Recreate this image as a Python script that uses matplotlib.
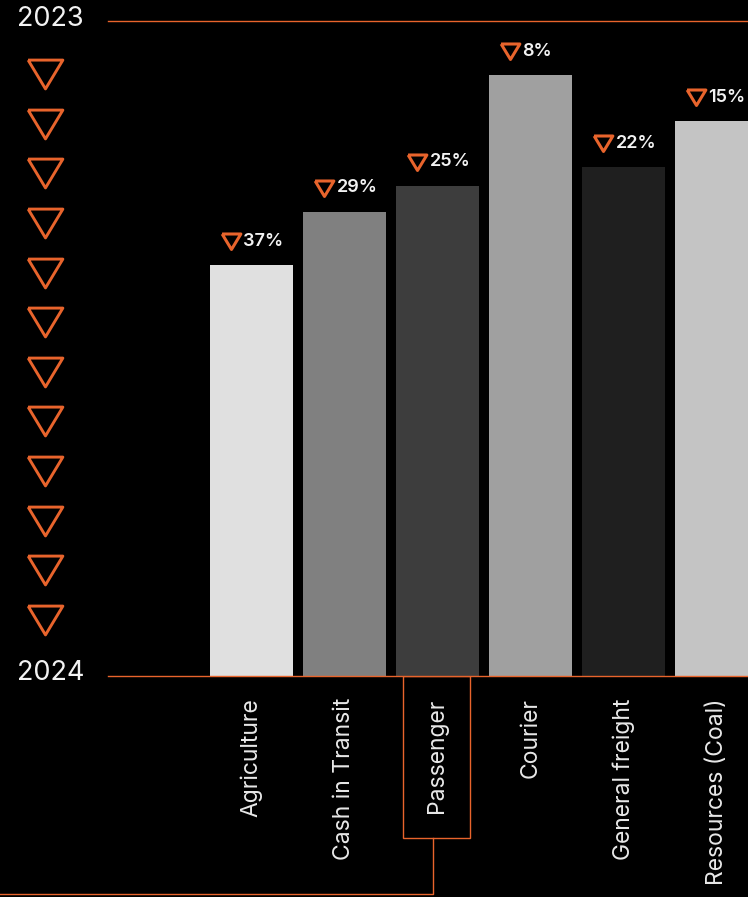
import numpy as np
import matplotlib.pyplot as plt
from matplotlib.patches import Rectangle
from matplotlib.transforms import offset_copy

# segments, bar heights and the year-on-year decline for each
categories = ['Agriculture', 'Cash in Transit', 'Passenger', 'Courier',
              'General freight', 'Resources (Coal)']
heights = [411, 464, 490, 601, 509, 555]
declines = [37, 29, 25, 8, 22, 15]
bar_colors = ['#e0e0e0', '#808080', '#3d3d3d', '#a0a0a0', '#1f1f1f', '#c4c4c4']
years = ['2023', '2024']

ORANGE = '#e8642c'
W, H = 748, 897
plt.rcParams['font.family'] = ['Inter', 'DejaVu Sans']

fig = plt.figure(figsize=(W / 100, H / 100), dpi=100, facecolor='black')

# background layer in pixel coordinates for the decorations
deco = fig.add_axes([0, 0, 1, 1], zorder=0)
deco.set_xlim(0, W)
deco.set_ylim(H, 0)
deco.axis('off')

ax = fig.add_axes([108 / W, (H - 676) / H, 640 / W, 655 / H], zorder=1)
ax.set_facecolor('none')
x = np.arange(len(categories))
ax.bar(x, heights, width=0.89, color=bar_colors, zorder=2)
ax.set_xlim((108 - 251.5) / 93, (748 - 251.5) / 93)
ax.set_ylim(0, 655)

for s in ['left', 'right']:
    ax.spines[s].set_visible(False)
for s in ['top', 'bottom']:
    ax.spines[s].set_color(ORANGE)
    ax.spines[s].set_linewidth(1.0)
    ax.spines[s].set_zorder(3)

ax.set_yticks([])
ax.set_xticks(x)
ax.set_xticklabels(categories, rotation=90, color='#e8e8e8', fontsize=16.5,
                   va='top', ha='center')
ax.tick_params(axis='x', length=0, pad=16)

# small down-triangle + percentage above each bar
tri_small = [(-1, 0.8), (1, 0.8), (0, -0.85), (-1, 0.8)]
tri_trans = offset_copy(ax.transData, fig=fig, x=-21, y=24, units='dots')
for xi, h, d in zip(x, heights, declines):
    ax.plot(xi, h, marker=tri_small, markersize=13.5, mfc='none', mec=ORANGE,
            mew=2.2, transform=tri_trans, clip_on=False, zorder=4)
    ax.annotate(f'{d}%', (xi, h), xytext=(-8 * 0.72, 24 * 0.72),
                textcoords='offset points', ha='left', va='center',
                color='#f2f2f2', fontsize=13, fontweight='semibold')

# column of large down-triangles on the left
tri_big = [(-1, 0.83), (1, 0.83), (0, -0.83), (-1, 0.83)]
deco.plot(np.full(12, 45), np.linspace(74, 620, 12), linestyle='none',
          marker=tri_big, markersize=25, mfc='none', mec=ORANGE, mew=2.1)

# year labels at both ends of the scale
fig.text(17 / W, 1 - 19 / H, years[0], color='#f2f2f2', fontsize=19.5,
         ha='left', va='center')
fig.text(17 / W, 1 - 673 / H, years[1], color='#f2f2f2', fontsize=19.5,
         ha='left', va='center')

# highlight box around the Passenger label with a connector
deco.add_patch(Rectangle((403, 676), 67, 162, fill=False, ec=ORANGE, lw=1.0))
deco.plot([433, 433, 0], [838, 894, 894], color=ORANGE, lw=1.0)

fig.savefig('out.png', dpi=100, facecolor='black')
